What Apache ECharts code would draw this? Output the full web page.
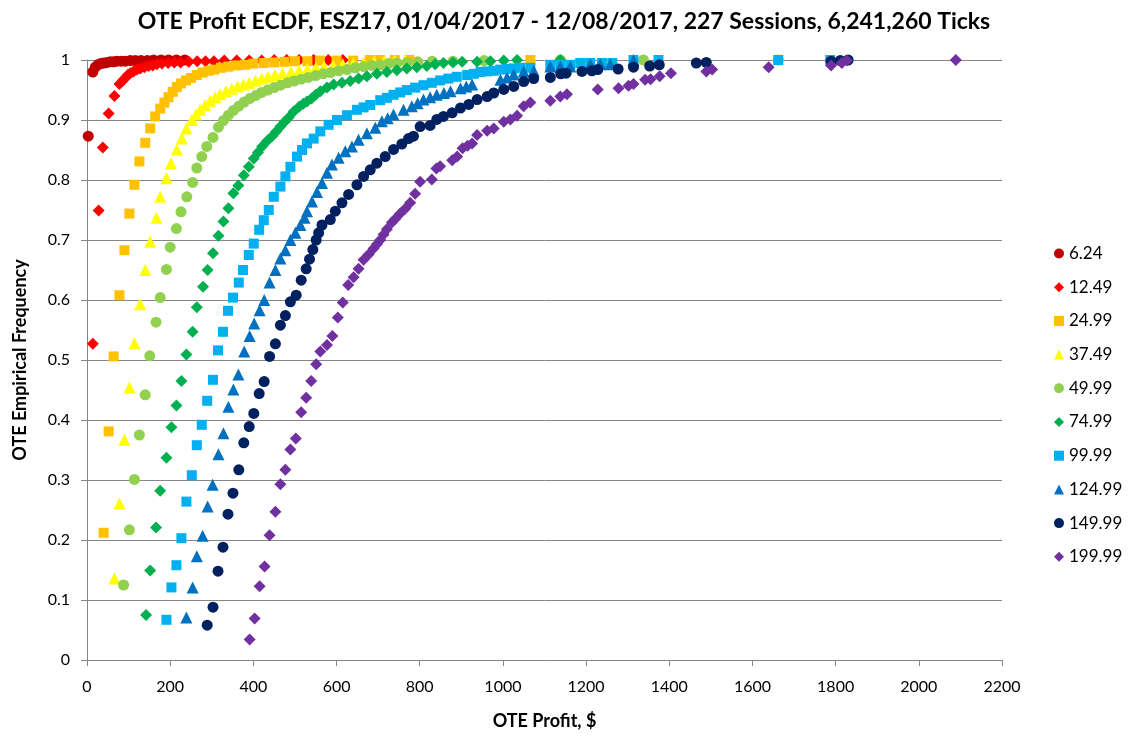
<!DOCTYPE html>
<html>
<head>
<meta charset="utf-8">
<script src="https://cdn.jsdelivr.net/npm/echarts@6/dist/echarts.min.js"></script>
<style>
html,body{margin:0;padding:0;background:#fff;}
#chart{width:1128px;height:739px;}
</style>
</head>
<body>
<div id="chart"></div>
<script>
// ---- data ----
var seriesNames = ['6.24','12.49','24.99','37.49','49.99','74.99','99.99','124.99','149.99','199.99'];
var xTicks = [0,200,400,600,800,1000,1200,1400,1600,1800,2000,2200];
var yTicks = [0,0.1,0.2,0.3,0.4,0.5,0.6,0.7,0.8,0.9,1];

var s624 = [[3,0.873],[14,0.98],[20,0.988],[26,0.992],[33,0.994],[40,0.995],[48,0.996],[56,0.997],[64,0.997],[72,0.998],[82,0.998],[92,0.998],[104,0.999],[116,0.999],[130,0.999],[145,0.999],[160,1.0],[178,1.0],[196,1.0],[215,1.0],[235,1.0]];

var s1249 = [[14,0.527],[28,0.749],[38,0.854],[52,0.911],[66,0.94],[78,0.96],[86,0.966],[92,0.97],[98,0.975],[104,0.978],[112,0.981],[120,0.984],[128,0.986],[138,0.988],[148,0.99],[158,0.991],[168,0.993],[180,0.994],[195,0.995],[210,0.996],[225,0.996],[245,0.997],[265,0.998],[285,0.998],[305,0.998],[330,0.999],[360,0.999],[390,0.999],[420,0.999],[450,1.0],[480,1.0],[510,1.0],[545,1.0],[580,1.0],[615,1.0]];

var s2499 = [[40,0.212],[52,0.381],[64,0.506],[78,0.608],[90,0.683],[102,0.744],[114,0.792],[126,0.831],[140,0.862],[152,0.886],[164,0.906],[176,0.919],[186,0.929],[196,0.938],[206,0.947],[216,0.955],[226,0.961],[238,0.966],[250,0.97],[264,0.975],[278,0.979],[292,0.982],[306,0.984],[322,0.987],[340,0.989],[360,0.991],[380,0.992],[400,0.994],[425,0.995],[450,0.996],[475,0.997],[500,0.998],[530,0.998],[560,0.999],[600,0.999],[640,0.999],[680,1.0],[705,1.0],[740,1.0],[775,1.0],[1066,1.0]];

var s3749 = [[66,0.136],[78,0.261],[90,0.367],[102,0.454],[114,0.528],[128,0.593],[140,0.65],[152,0.697],[167,0.737],[176,0.772],[191,0.803],[202,0.828],[216,0.851],[228,0.869],[239,0.886],[252,0.9],[262,0.909],[272,0.917],[284,0.925],[296,0.932],[308,0.938],[320,0.943],[334,0.948],[348,0.952],[362,0.956],[376,0.959],[390,0.962],[405,0.966],[420,0.969],[435,0.972],[452,0.975],[470,0.978],[490,0.98],[510,0.983],[530,0.985],[550,0.987],[570,0.989],[592,0.991],[615,0.993],[640,0.994],[665,0.996],[690,0.997],[715,0.998],[740,0.999],[765,1.0]];

var s4999 = [[88,0.125],[102,0.217],[114,0.301],[126,0.375],[140,0.442],[151,0.507],[166,0.563],[176,0.604],[191,0.651],[200,0.688],[215,0.719],[226,0.747],[240,0.772],[254,0.796],[264,0.82],[276,0.839],[288,0.856],[303,0.871],[316,0.888],[328,0.899],[340,0.908],[352,0.916],[365,0.923],[378,0.93],[392,0.936],[406,0.941],[420,0.946],[435,0.95],[450,0.954],[466,0.958],[482,0.962],[498,0.965],[515,0.968],[532,0.971],[550,0.974],[568,0.977],[586,0.979],[605,0.982],[625,0.984],[645,0.987],[665,0.989],[685,0.991],[705,0.992],[725,0.994],[745,0.995],[770,0.996],[795,0.997],[830,0.998],[880,0.998],[955,0.999],[1138,1.0],[1338,1.0],[1662,1.0]];

var s7499 = [[142,0.075],[152,0.149],[166,0.221],[176,0.282],[191,0.337],[203,0.388],[215,0.424],[227,0.465],[239,0.509],[254,0.547],[264,0.588],[279,0.622],[290,0.65],[303,0.678],[316,0.707],[328,0.731],[340,0.753],[352,0.778],[364,0.791],[377,0.808],[389,0.822],[401,0.836],[411,0.846],[421,0.856],[433,0.865],[445,0.873],[455,0.881],[465,0.889],[475,0.897],[485,0.904],[497,0.914],[510,0.922],[520,0.927],[529,0.931],[540,0.936],[550,0.942],[561,0.948],[577,0.954],[593,0.959],[613,0.962],[633,0.965],[653,0.969],[673,0.973],[697,0.977],[721,0.98],[745,0.983],[769,0.986],[793,0.988],[817,0.99],[837,0.993],[857,0.995],[880,0.996],[902,0.997],[938,0.997],[970,0.998],[1002,0.999],[1034,1.0],[1138,1.0]];

var s9999 = [[191,0.067],[203,0.121],[215,0.158],[227,0.203],[239,0.264],[252,0.308],[264,0.358],[276,0.392],[289,0.432],[303,0.467],[315,0.516],[327,0.547],[339,0.582],[351,0.604],[365,0.629],[375,0.65],[389,0.675],[401,0.694],[414,0.717],[425,0.733],[437,0.75],[449,0.772],[465,0.789],[477,0.806],[489,0.822],[505,0.839],[517,0.85],[529,0.861],[545,0.869],[561,0.881],[581,0.892],[601,0.9],[625,0.908],[649,0.917],[665,0.921],[681,0.925],[705,0.933],[721,0.937],[737,0.942],[753,0.946],[769,0.95],[789,0.954],[809,0.958],[829,0.962],[849,0.966],[869,0.969],[889,0.972],[914,0.975],[930,0.977],[946,0.98],[962,0.981],[978,0.982],[994,0.984],[1010,0.985],[1026,0.986],[1042,0.987],[1066,0.987],[1114,0.992],[1138,0.992],[1162,0.992],[1186,0.995],[1210,0.995],[1238,0.995],[1263,0.995],[1314,1.0],[1374,1.0],[1662,1.0],[1787,1.0]];

var s12499 = [[239,0.071],[254,0.121],[264,0.173],[278,0.207],[290,0.256],[302,0.292],[316,0.343],[328,0.378],[340,0.422],[352,0.451],[364,0.476],[378,0.514],[391,0.54],[402,0.561],[415,0.583],[426,0.6],[439,0.629],[453,0.65],[465,0.669],[477,0.683],[489,0.7],[501,0.712],[513,0.725],[523,0.737],[529,0.748],[541,0.764],[553,0.78],[565,0.795],[577,0.812],[589,0.826],[605,0.837],[621,0.848],[637,0.856],[653,0.867],[673,0.878],[693,0.887],[709,0.898],[723,0.903],[737,0.909],[761,0.917],[781,0.923],[795,0.928],[809,0.934],[825,0.938],[841,0.942],[858,0.945],[874,0.948],[898,0.953],[912,0.956],[926,0.959],[994,0.967],[1010,0.971],[1026,0.976],[1050,0.981],[1074,0.982],[1114,0.989],[1138,0.989],[1162,0.989],[1210,0.993],[1234,0.993],[1258,0.993],[1314,1.0]];

var s14999 = [[289,0.058],[303,0.088],[315,0.148],[327,0.188],[339,0.243],[351,0.278],[365,0.317],[377,0.362],[390,0.389],[401,0.411],[414,0.444],[426,0.464],[439,0.506],[453,0.527],[465,0.558],[477,0.574],[489,0.597],[503,0.608],[515,0.633],[527,0.652],[535,0.668],[543,0.684],[551,0.7],[557,0.712],[565,0.725],[585,0.734],[597,0.748],[613,0.762],[629,0.776],[649,0.792],[665,0.806],[681,0.817],[697,0.828],[717,0.839],[737,0.851],[757,0.86],[773,0.869],[785,0.873],[801,0.889],[825,0.891],[841,0.901],[857,0.906],[878,0.912],[898,0.92],[918,0.926],[938,0.934],[962,0.939],[978,0.945],[1002,0.951],[1026,0.956],[1050,0.964],[1074,0.969],[1114,0.971],[1139,0.977],[1152,0.978],[1190,0.981],[1214,0.982],[1228,0.984],[1277,0.985],[1314,0.988],[1353,0.99],[1376,0.992],[1465,0.995],[1489,0.996],[1789,0.998],[1811,0.999],[1830,1.0]];

var s19999 = [[391,0.034],[403,0.069],[415,0.123],[427,0.156],[439,0.208],[453,0.247],[465,0.293],[477,0.317],[489,0.351],[502,0.369],[515,0.413],[527,0.437],[539,0.465],[551,0.493],[561,0.514],[577,0.525],[590,0.54],[603,0.571],[615,0.596],[628,0.625],[641,0.638],[653,0.652],[665,0.667],[677,0.676],[689,0.686],[697,0.693],[705,0.7],[713,0.709],[721,0.718],[733,0.729],[741,0.735],[753,0.744],[765,0.752],[777,0.762],[789,0.777],[801,0.797],[829,0.801],[840,0.819],[849,0.823],[878,0.833],[890,0.839],[903,0.853],[915,0.857],[926,0.861],[938,0.875],[962,0.882],[978,0.886],[1002,0.897],[1018,0.901],[1034,0.907],[1050,0.923],[1066,0.929],[1114,0.932],[1138,0.939],[1154,0.943],[1228,0.951],[1278,0.953],[1302,0.957],[1314,0.96],[1342,0.967],[1355,0.968],[1377,0.973],[1404,0.978],[1489,0.981],[1503,0.984],[1639,0.988],[1789,0.991],[1815,0.995],[1827,0.999],[2089,1.0]];

var seriesData = [s624,s1249,s2499,s3749,s4999,s7499,s9999,s12499,s14999,s19999];
var colors = ['#C00000','#FF0000','#FFC000','#FFFF00','#92D050','#00B050','#00B0F0','#0070C0','#002060','#7030A0'];
var symbols = ['circle','diamond','rect','triangle','circle','diamond','rect','triangle','circle','diamond'];
var sizes = [11,12,10,12,11,12,10,12,11,12];

var chart = echarts.init(document.getElementById('chart'), null, {renderer:'canvas'});
var FONT = 'Lato, "Open Sans", sans-serif';
var series = seriesNames.map(function(n,i){
  return {
    name: n, type: 'scatter', data: seriesData[i],
    symbol: symbols[i], symbolSize: sizes[i],
    itemStyle: {color: colors[i], opacity: 1},
    emphasis: {disabled: true}, animation: false
  };
});
chart.setOption({
  animation: false,
  backgroundColor: '#fff',
  title: {
    text: 'OTE Profit ECDF, ESZ17, 01/04/2017 - 12/08/2017, 227 Sessions, 6,241,260 Ticks',
    left: 'center', top: 5,
    textStyle: {fontFamily: FONT, fontWeight: 'bold', fontSize: 23, color: '#000'}
  },
  legend: {
    orient: 'vertical', left: 1049, top: 240,
    itemWidth: 10, itemHeight: 10, itemGap: 16.7,
    textStyle: {fontFamily: FONT, fontSize: 17, color: '#000', lineHeight: 17},
    data: seriesNames
  },
  grid: {left: 87, right: 126, top: 60, bottom: 79, containLabel: false},
  xAxis: {
    type: 'value', min: xTicks[0], max: xTicks[xTicks.length-1], interval: 200,
    name: 'OTE Profit, $', nameLocation: 'middle', nameGap: 52,
    nameTextStyle: {fontFamily: FONT, fontWeight: 'bold', fontSize: 18, color: '#000'},
    axisLine: {show: true, onZero: false, lineStyle: {color: '#868686', width: 1}},
    axisTick: {show: true, length: 6, lineStyle: {color: '#868686'}},
    axisLabel: {fontFamily: FONT, fontSize: 16, color: '#000', margin: 19,
      formatter: function(v){ return String(v); }},
    splitLine: {show: false}
  },
  yAxis: {
    type: 'value', min: yTicks[0], max: yTicks[yTicks.length-1], interval: 0.1,
    name: 'OTE Empirical Frequency', nameLocation: 'middle', nameGap: 58, nameRotate: 90,
    nameTextStyle: {fontFamily: FONT, fontWeight: 'bold', fontSize: 18, color: '#000'},
    axisLine: {show: true, lineStyle: {color: '#868686', width: 1}},
    axisTick: {show: true, length: 6, lineStyle: {color: '#868686'}},
    axisLabel: {fontFamily: FONT, fontSize: 16, color: '#000', margin: 17,
      formatter: function(v){ return String(Math.round(v*10)/10); }},
    splitLine: {show: true, lineStyle: {color: '#868686', width: 1}}
  },
  series: series
});
</script>
</body>
</html>
